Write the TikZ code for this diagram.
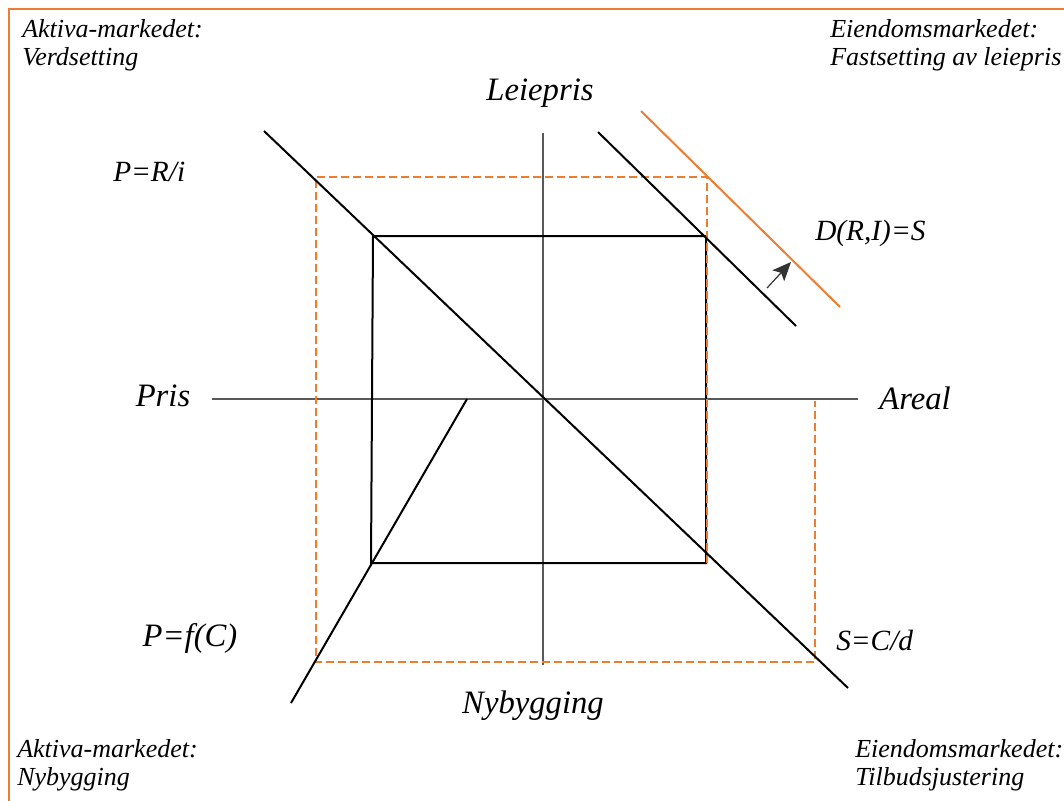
\documentclass[tikz,border=0pt]{standalone}
\usepackage{fontspec}
\setmainfont{Liberation Serif}
\usetikzlibrary{arrows.meta}
\definecolor{accent}{RGB}{237,125,49}
\begin{document}
\begin{tikzpicture}[x=0.75pt,y=-0.75pt,
  corner/.style={font=\fontsize{19.5}{21}\selectfont\itshape, inner sep=0pt, anchor=base west},
  axislabel/.style={font=\fontsize{24.5}{28}\selectfont\itshape, inner sep=0pt},
  curvelabel/.style={font=\fontsize{22}{24}\selectfont\itshape, inner sep=0pt},
  axisline/.style={draw=black!65, line width=1.1pt},
  curve/.style={draw=black, line width=1.5pt},
  shifted/.style={draw=accent, line width=1.5pt},
  guide/.style={draw=accent, line width=1.5pt, dash pattern=on 6pt off 3pt},
  frameline/.style={draw=accent, line width=1.6pt}]
\useasboundingbox (0,0) rectangle (1064,800);
\fill[white] (0,0) rectangle (1064,800);

% outer frame
\draw[frameline] (9,830) -- (9,9) -- (1090,9);

% quadrant captions
\node[corner] (tl1) at (22,37) {Aktiva-markedet:};
\node[corner] (tl2) at (22,65) {Verdsetting};
\node[corner] (tr1) at (830,37) {Eiendomsmarkedet:};
\node[corner] (tr2) at (830,65) {Fastsetting av leiepris};
\node[corner] (bl1) at (17,757) {Aktiva-markedet:};
\node[corner] (bl2) at (17,785) {Nybygging};
\node[corner] (br1) at (855,757) {Eiendomsmarkedet:};
\node[corner] (br2) at (855,785) {Tilbudsjustering};

% axes
\coordinate (xl) at (212,399);
\coordinate (xr) at (858,399);
\coordinate (yt) at (543,133);
\coordinate (yb) at (543,665);
\draw[axisline] (xl) -- (xr);
\draw[axisline] (yt) -- (yb);

\node[axislabel] (leiepris) at (540,93) {Leiepris};
\node[axislabel] (pris) at (163,396) {Pris};
\node[axislabel] (areal) at (915,398) {Areal};
\node[axislabel] (nybygging) at (533,706) {Nybygging};
\node[axislabel] (pfc) at (190,638) {P=f(C)};

\node[curvelabel, anchor=west] (pri) at (113,172) {P=R/i};
\node[curvelabel, anchor=west] (dri) at (815,233) {D(R,I)=S};
\node[curvelabel, anchor=west] (scd) at (836,640) {S=C/d};

% dashed guide frame after the demand shift
\coordinate (g1) at (316,177);
\coordinate (g2) at (707,177);
\coordinate (g3) at (707,563);
\coordinate (g4) at (316,662);
\coordinate (g5) at (815,662);
\coordinate (g6) at (815,401);

% equilibrium square
\coordinate (s1) at (373,236);
\coordinate (s2) at (706,236);
\coordinate (s3) at (706,563);
\coordinate (s4) at (371,563);
\draw[curve] (s1) -- (s2) -- (s3) -- (s4) -- cycle;

\draw[guide] (g3) -- (g2) -- (g1) -- (g4) -- (g5) -- (g6);

% curves
\coordinate (d1) at (264,131);
\coordinate (d2) at (848,688);
\draw[curve] (d1) -- (d2);

\coordinate (c1) at (467,399);
\coordinate (c2) at (291,703);
\draw[curve] (c1) -- (c2);

\coordinate (e1) at (598,132);
\coordinate (e2) at (796,326);
\draw[curve] (e1) -- (e2);

\coordinate (o1) at (641,111);
\coordinate (o2) at (840,307);
\draw[shifted] (o1) -- (o2);

% shift arrow
\coordinate (a1) at (767,288);
\coordinate (a2) at (791,262);
\draw[draw=black!80, line width=0.9pt, -{Stealth[length=14pt,width=12pt,inset=3pt]}] (a1) -- (a2);
\end{tikzpicture}
\end{document}
